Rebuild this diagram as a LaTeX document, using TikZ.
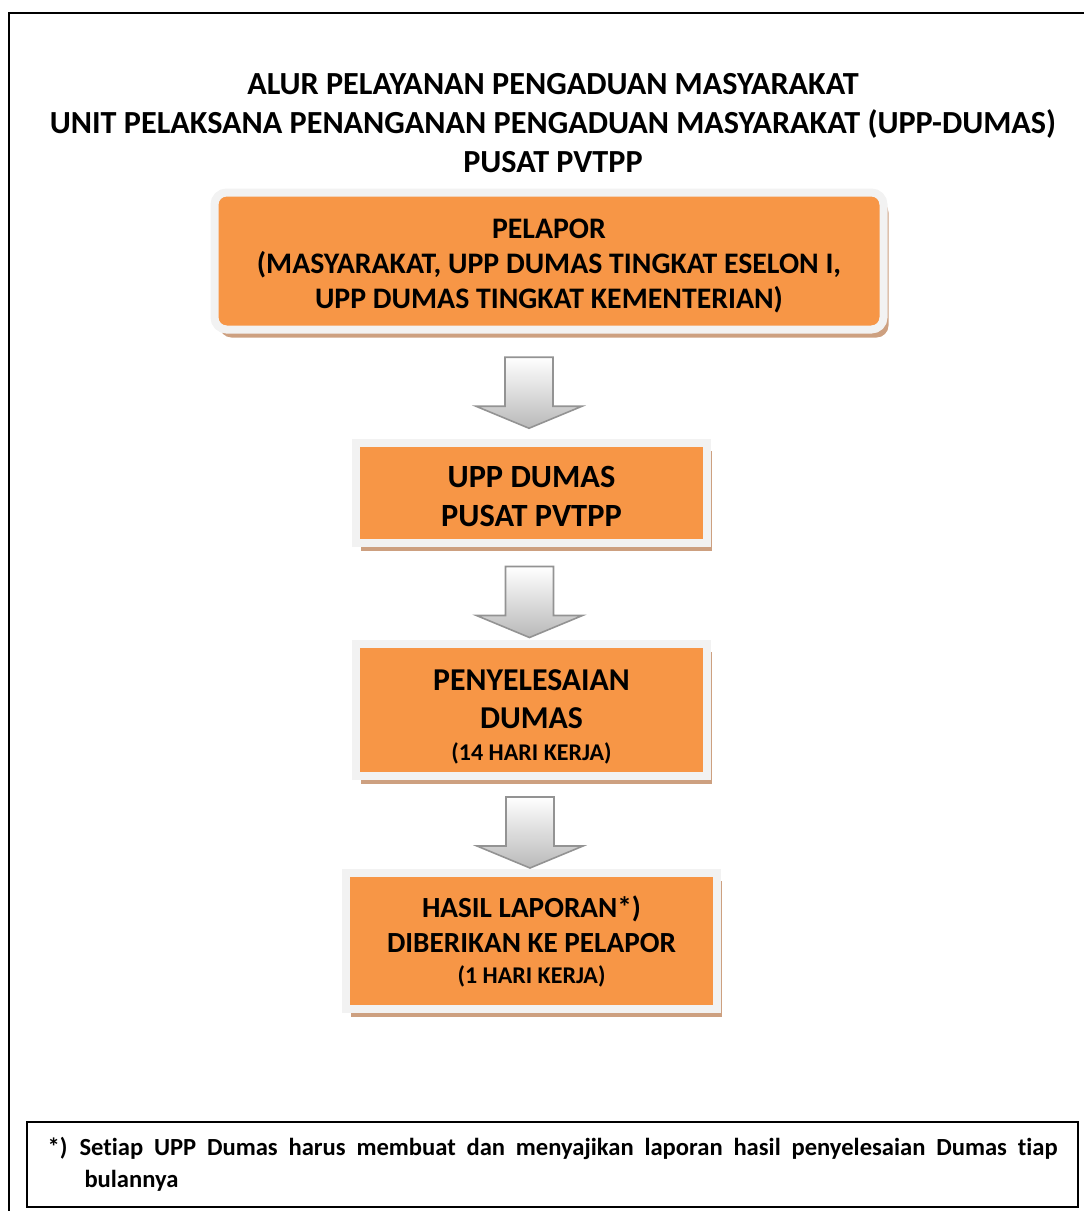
\documentclass[tikz,border=0pt]{standalone}
\usepackage{fontspec}
\setmainfont{Carlito}[Ligatures=NoCommon]
\usetikzlibrary{shadows,calc}
\definecolor{boxorange}{RGB}{247,150,70}
\definecolor{boxframe}{RGB}{242,242,242}
\definecolor{boxshadow}{RGB}{205,160,128}
\tikzset{
  blockdown/.pic={
    \path[downarrow] (-24,-35.5) -- (24,-35.5) -- (24,13.5) -- (53,13.5)
      -- (0,35.5) -- (-53,13.5) -- (-24,13.5) -- cycle;
  }
}
\begin{document}
\begin{tikzpicture}[x=0.5pt,y=-0.5pt,font=\bfseries,
  stepbox/.style={fill=boxorange,draw=boxframe,line width=4pt,inner sep=0pt,
    drop shadow={shadow xshift=2.5pt,shadow yshift=-4pt,fill=boxshadow,opacity=1}},
  steptext/.style={align=center,inner sep=0pt},
  downarrow/.style={draw=gray!85,line width=0.8pt,line join=miter,top color=white,bottom color=gray!55},
  notebox/.style={draw,line width=1pt,minimum width=525.5pt,minimum height=42.5pt,
    font=\bfseries\fontsize{12.3}{16}\selectfont}]
\useasboundingbox (0,0) rectangle (1083,1211);
\draw[line width=1pt] (9,13) rectangle (1100,1240);

\node[align=center,font=\bfseries\fontsize{16.1}{19.5}\selectfont] (title) at(553,123)
  {ALUR PELAYANAN PENGADUAN MASYARAKAT\\
   UNIT PELAKSANA PENANGANAN PENGADUAN MASYARAKAT (UPP-DUMAS)\\
   PUSAT PVTPP};

\node[stepbox,rounded corners=6pt,minimum width=334.5pt,minimum height=68.5pt] (pelapor) at(549,261) {};
\node[steptext,font=\bfseries\fontsize{14.9}{17.5}\selectfont] (pelapor-t) at([yshift=-2.5pt]pelapor.center)
  {PELAPOR\\(MASYARAKAT, UPP DUMAS TINGKAT ESELON I,\\UPP DUMAS TINGKAT KEMENTERIAN)};

\node[stepbox,minimum width=175.5pt,minimum height=50pt] (upp) at(531.5,493) {};
\node[steptext,font=\bfseries\fontsize{16.2}{19.5}\selectfont] (upp-t) at([yshift=-1.5pt]upp.center)
  {UPP DUMAS\\PUSAT PVTPP};

\node[stepbox,minimum width=175.5pt,minimum height=66pt] (selesai) at(531.5,710) {};
\node[steptext,font=\bfseries\fontsize{15.9}{19}\selectfont] (selesai-t) at([yshift=-3.5pt]selesai.center)
  {PENYELESAIAN\\DUMAS\\[-3pt]{\fontsize{12}{15}\selectfont (14 HARI KERJA)}};

\node[stepbox,minimum width=185.5pt,minimum height=68pt] (hasil) at(531.5,941) {};
\node[steptext,font=\bfseries\fontsize{14.6}{17.5}\selectfont] (hasil-t) at(hasil.center)
  {HASIL LAPORAN*)\\DIBERIKAN KE PELAPOR\\[-2pt]{\fontsize{12}{15}\selectfont (1 HARI KERJA)}};

\coordinate (m1) at ($(pelapor.south)!.5!(upp.north)$);
\coordinate (m2) at ($(upp.south)!.5!(selesai.north)$);
\coordinate (m3) at ($(selesai.south)!.5!(hasil.north)$);
\pic at ($(upp.north |- m1)+(-2.5,6.5)$) {blockdown};
\pic at ($(selesai.north |- m2)+(-2,8.5)$) {blockdown};
\pic at ($(hasil.north |- m3)+(-1.5,8)$) {blockdown};

\node[notebox] (note) at(552.5,1164.5)
  {\parbox{505pt}{\hangindent=18.5pt\hangafter=1\makebox[16pt][l]{*)}Setiap UPP Dumas harus membuat dan menyajikan laporan hasil penyelesaian Dumas tiap\linebreak bulannya}};

\end{tikzpicture}
\end{document}
